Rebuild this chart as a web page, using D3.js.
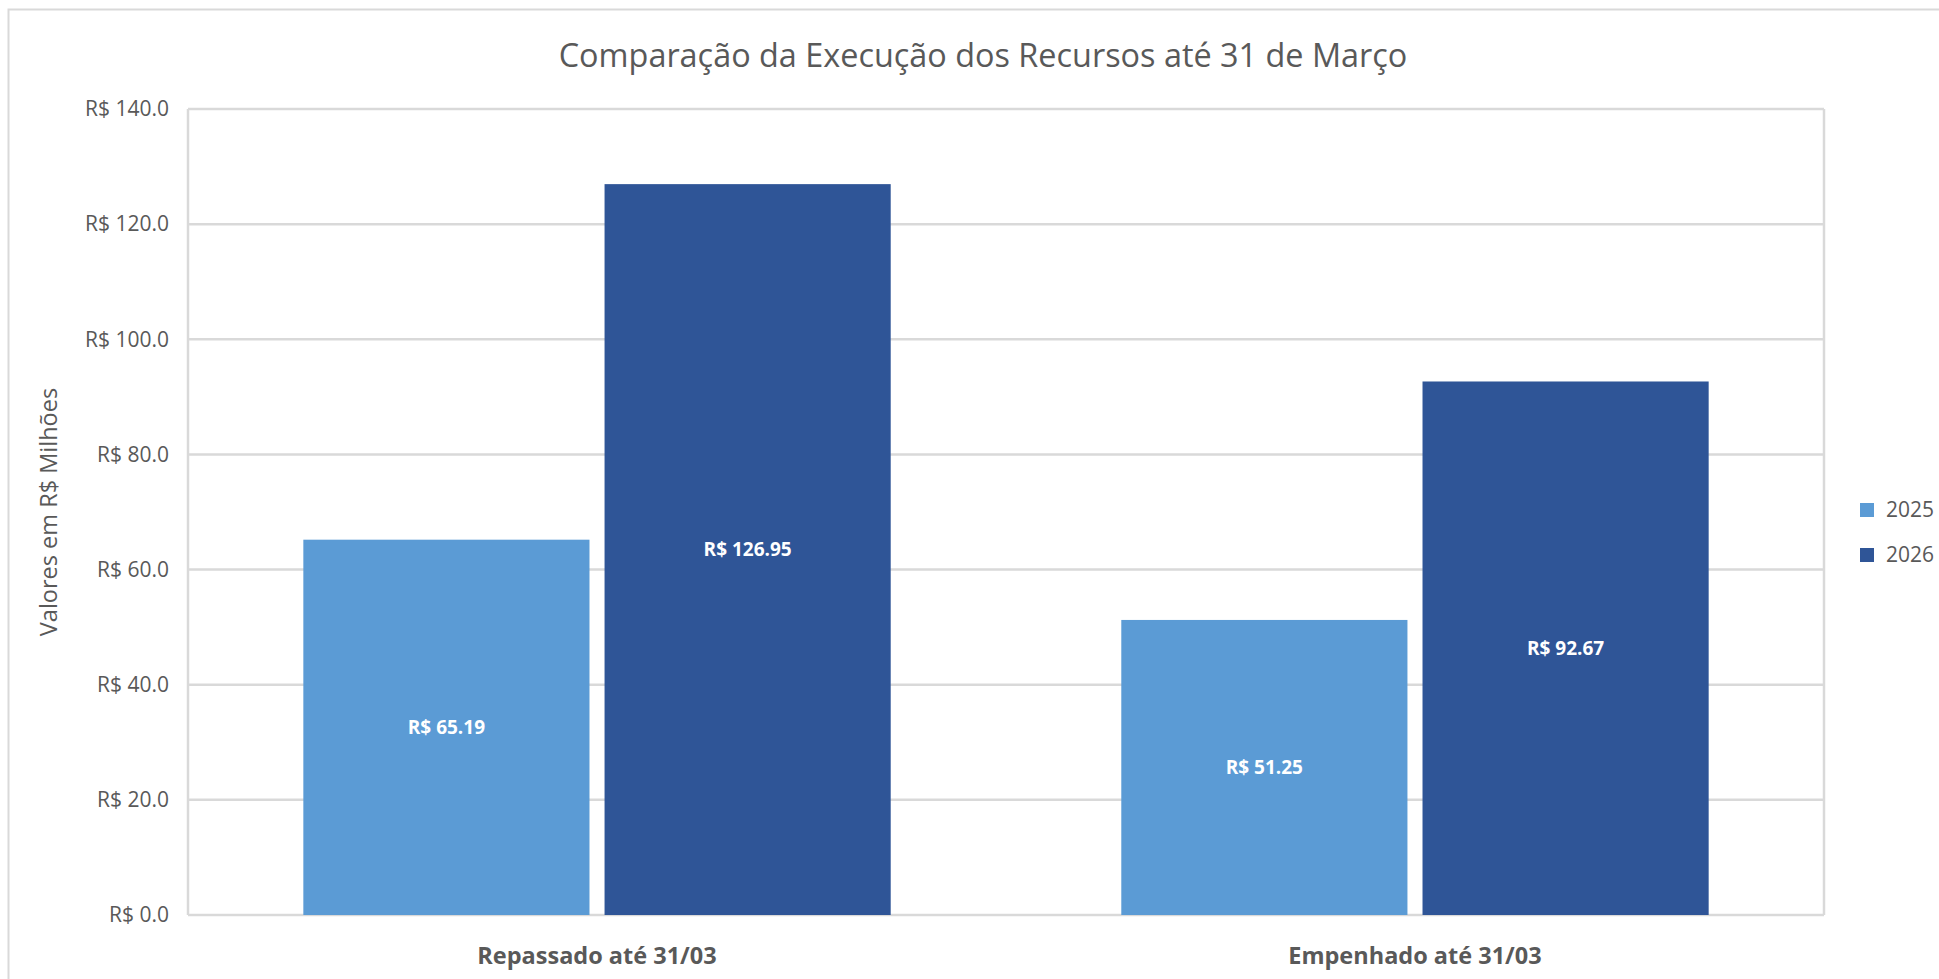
<!DOCTYPE html>
<html>
<head>
<meta charset="utf-8">
<script src="https://cdn.jsdelivr.net/npm/d3@7"></script>
<style>
  body { margin: 0; background: #fff; }
  svg text { font-family: "Open Sans", "Noto Sans", sans-serif; fill: #595959; }
</style>
</head>
<body>
<div id="chart"></div>
<script>
var categories = ["Repassado até 31/03", "Empenhado até 31/03"];
var seriesNames = ["2025", "2026"];
var values2025 = [65.19, 51.25];
var values2026 = [126.95, 92.67];
var yTicks = [0, 20, 40, 60, 80, 100, 120, 140];
var colors = ["#5B9BD5", "#2F5597"];

var width = 1939, height = 979;
var margin = {top: 109, right: 115, bottom: 64, left: 188};
var innerW = width - margin.left - margin.right;
var innerH = height - margin.top - margin.bottom;

var svg = d3.select("#chart")
  .append("svg")
  .attr("width", width)
  .attr("height", height);

// outer chart border
svg.append("rect")
  .attr("x", 8.5).attr("y", 9.5)
  .attr("width", width).attr("height", height)
  .attr("fill", "none")
  .attr("stroke", "#D9D9D9")
  .attr("stroke-width", 2);

svg.append("text")
  .attr("x", 983).attr("y", 67)
  .style("text-anchor", "middle")
  .style("font-size", "32.4px")
  .text("Comparação da Execução dos Recursos até 31 de Março");

var g = svg.append("g")
  .attr("transform", "translate(" + margin.left + "," + margin.top + ")");

var y = d3.scaleLinear().domain([0, 140]).range([innerH, 0]);
var x0 = d3.scaleBand().domain(categories).range([0, innerW]).paddingInner(0.2819).paddingOuter(0.141);
var x1 = d3.scaleBand().domain(seriesNames).range([0, x0.bandwidth()]).paddingInner(0.05);

// gridlines
g.selectAll("line.grid")
  .data(yTicks)
  .enter().append("line")
  .attr("class", "grid")
  .attr("x1", 0).attr("x2", innerW)
  .attr("y1", function(d) { return y(d); })
  .attr("y2", function(d) { return y(d); })
  .attr("stroke", "#D9D9D9")
  .attr("stroke-width", 2.5);

// plot sides
[0, innerW].forEach(function(px) {
  g.append("line")
    .attr("x1", px).attr("x2", px)
    .attr("y1", 0).attr("y2", innerH)
    .attr("stroke", "#D9D9D9")
    .attr("stroke-width", 2.5);
});

// y axis labels
var yAxis = d3.axisLeft(y)
  .tickValues(yTicks)
  .tickSize(0)
  .tickPadding(19)
  .tickFormat(function(d) { return "R$ " + d3.format(".1f")(d); });

g.append("g")
  .call(yAxis)
  .call(function(s) { s.select(".domain").remove(); })
  .selectAll("text")
  .style("font-size", "21px")
  .style("font-family", "'Open Sans', sans-serif")
  .attr("fill", "#595959");

// y axis title
svg.append("text")
  .attr("transform", "translate(57," + (margin.top + innerH / 2) + ") rotate(-90)")
  .style("text-anchor", "middle")
  .style("font-size", "23.5px")
  .text("Valores em R$ Milhões");

// x axis labels
g.selectAll("text.cat")
  .data(categories)
  .enter().append("text")
  .attr("class", "cat")
  .attr("x", function(d) { return x0(d) + x0.bandwidth() / 2; })
  .attr("y", innerH + 49)
  .style("text-anchor", "middle")
  .style("font-size", "23.5px")
  .style("font-weight", "bold")
  .text(function(d) { return d; });

var rows = categories.map(function(c, i) {
  return {cat: c, vals: [
    {name: seriesNames[0], value: values2025[i], color: colors[0]},
    {name: seriesNames[1], value: values2026[i], color: colors[1]}
  ]};
});

var groups = g.selectAll("g.cat")
  .data(rows)
  .enter().append("g")
  .attr("class", "cat")
  .attr("transform", function(d) { return "translate(" + x0(d.cat) + ",0)"; });

groups.selectAll("rect")
  .data(function(d) { return d.vals; })
  .enter().append("rect")
  .attr("x", function(d) { return x1(d.name); })
  .attr("y", function(d) { return y(d.value); })
  .attr("width", x1.bandwidth())
  .attr("height", function(d) { return innerH - y(d.value); })
  .attr("fill", function(d) { return d.color; });

groups.selectAll("text.val")
  .data(function(d) { return d.vals; })
  .enter().append("text")
  .attr("class", "val")
  .attr("x", function(d) { return x1(d.name) + x1.bandwidth() / 2; })
  .attr("y", function(d) { return (y(d.value) + innerH) / 2; })
  .attr("dy", "0.35em")
  .style("text-anchor", "middle")
  .style("font-size", "19px")
  .style("font-weight", "bold")
  .style("fill", "#fff")
  .text(function(d) { return "R$ " + d3.format(".2f")(d.value); });

// legend
var legend = svg.selectAll("g.legend")
  .data(seriesNames)
  .enter().append("g")
  .attr("class", "legend")
  .attr("transform", function(d, i) { return "translate(1860," + (503 + i * 45) + ")"; });

legend.append("rect")
  .attr("width", 14).attr("height", 14)
  .attr("fill", function(d, i) { return colors[i]; });

legend.append("text")
  .attr("x", 26).attr("y", 7)
  .attr("dy", "0.35em")
  .style("font-size", "21px")
  .text(function(d) { return d; });
</script>
</body>
</html>
